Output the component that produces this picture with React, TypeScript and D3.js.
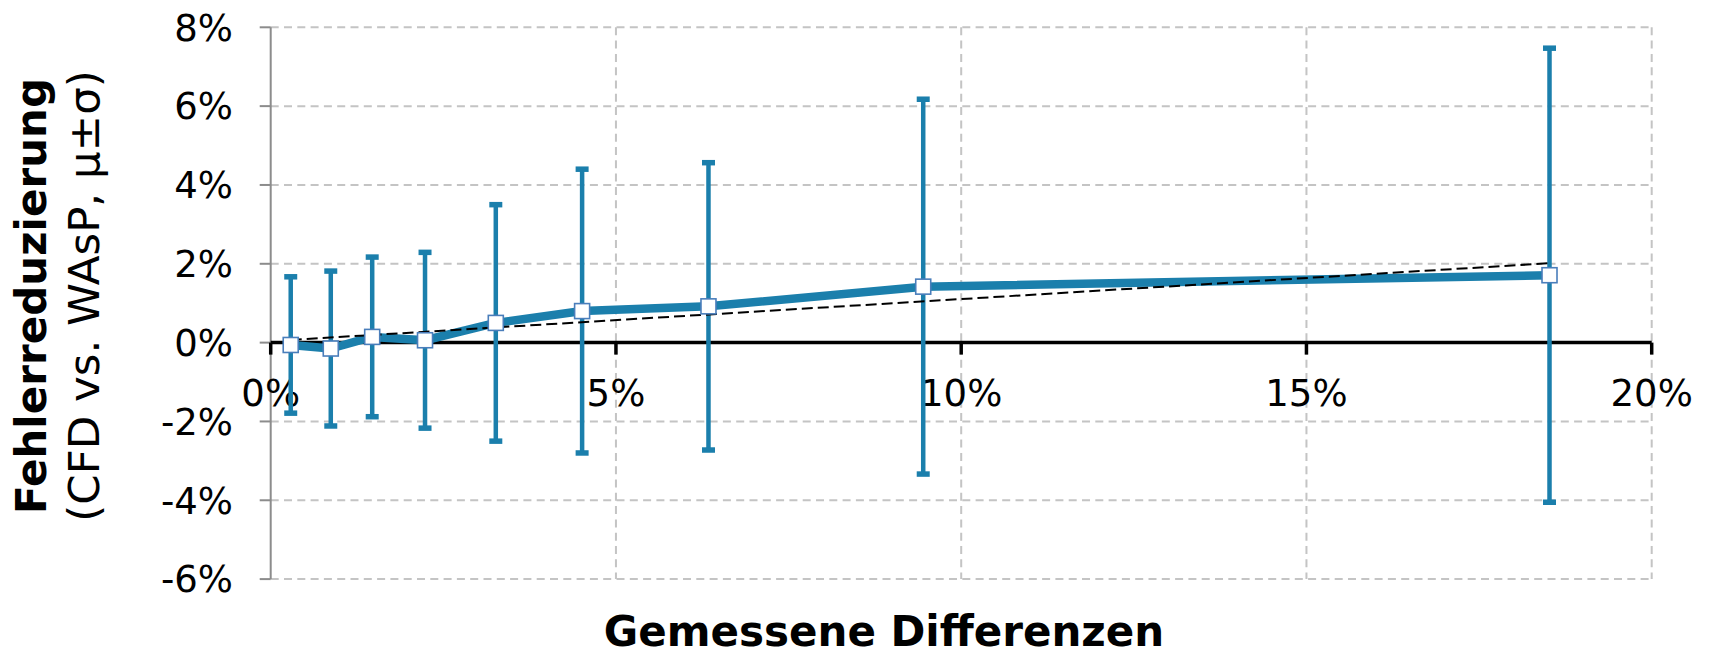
import React from "react";
import * as d3 from "d3";

// Measured differences (x, in %) and error reduction mean / std (in %)
const differences = [0.29, 0.87, 1.47, 2.235, 3.26, 4.51, 6.34, 9.45, 18.52];
const meanReduction = [-0.06, -0.15, 0.145, 0.06, 0.5, 0.8, 0.92, 1.42, 1.71];
const sigmaReduction = [1.73, 1.965, 2.025, 2.23, 3.0, 3.6, 3.645, 4.755, 5.76];

const xTicks = [0, 5, 10, 15, 20];
const yTicks = [-6, -4, -2, 0, 2, 4, 6, 8];

const xTitle = "Gemessene Differenzen";
const yTitleBold = "Fehlerreduzierung";
const yTitleRegular = "(CFD vs. WAsP, μ±σ)";

const W = 1710;
const H = 655;
const FONT = "'DejaVu Sans', Verdana, sans-serif";
const BLUE = "#1b7fac";
const MARKER_STROKE = "#4a7ebb";
const GRID = "#c4c4c4";

export default function App() {
  const x = d3.scaleLinear().domain([0, 20]).range([270.7, 1651.7]);
  const y = d3.scaleLinear().domain([-6, 8]).range([579.1, 27.3]);

  const points = differences.map((d, i) => ({
    x: d,
    m: meanReduction[i],
    s: sigmaReduction[i],
  }));

  const line = d3
    .line<{ x: number; m: number }>()
    .x((d) => x(d.x))
    .y((d) => y(d.m));

  // least-squares linear trend over the means
  const mx = d3.mean(differences) as number;
  const my = d3.mean(meanReduction) as number;
  const sxy = d3.sum(differences, (d, i) => (d - mx) * (meanReduction[i] - my));
  const sxx = d3.sum(differences, (d) => (d - mx) * (d - mx));
  const slope = sxy / sxx;
  const intercept = my - slope * mx;
  const x0 = d3.min(differences) as number;
  const x1 = d3.max(differences) as number;

  const fmt = (v: number) => `${v}%`;

  return (
    <svg
      width={W}
      height={H}
      style={{ position: "absolute", left: 0, top: 0, background: "#fff" }}
      fontFamily={FONT}
    >
      {/* horizontal grid */}
      {yTicks
        .filter((t) => t !== 0)
        .map((t) => (
          <line
            key={`gy${t}`}
            x1={x(0)}
            x2={x(20)}
            y1={y(t)}
            y2={y(t)}
            stroke={GRID}
            strokeWidth={2}
            strokeDasharray="8,5.3"
          />
        ))}
      {/* vertical grid */}
      {xTicks
        .filter((t) => t !== 0)
        .map((t) => (
          <line
            key={`gx${t}`}
            x1={x(t)}
            x2={x(t)}
            y1={y(8)}
            y2={y(-6)}
            stroke={GRID}
            strokeWidth={2}
            strokeDasharray="8,5.3"
          />
        ))}

      {/* y axis */}
      <line x1={x(0)} x2={x(0)} y1={y(8)} y2={y(-6)} stroke="#8c8c8c" strokeWidth={2} />
      {yTicks.map((t) => (
        <g key={`yt${t}`}>
          <line x1={x(0) - 11} x2={x(0)} y1={y(t)} y2={y(t)} stroke="#8c8c8c" strokeWidth={2} />
          <text
            x={233}
            y={y(t)}
            dy="0.36em"
            textAnchor="end"
            fontSize={37}
            fill="#000"
          >
            {fmt(t)}
          </text>
        </g>
      ))}

      {/* x axis at zero */}
      <line x1={x(0)} x2={x(20)} y1={y(0)} y2={y(0)} stroke="#000" strokeWidth={3.5} />
      {xTicks.map((t) => (
        <g key={`xt${t}`}>
          <line x1={x(t)} x2={x(t)} y1={y(0)} y2={y(0) + 12} stroke="#000" strokeWidth={3.5} />
          <text x={x(t)} y={405.5} textAnchor="middle" fontSize={37} fill="#000">
            {fmt(t)}
          </text>
        </g>
      ))}

      {/* mean line */}
      <path
        d={line(points) || ""}
        fill="none"
        stroke={BLUE}
        strokeWidth={8.5}
        strokeLinejoin="round"
      />

      {/* error bars */}
      {points.map((p, i) => (
        <g key={`eb${i}`} stroke={BLUE}>
          <line x1={x(p.x)} x2={x(p.x)} y1={y(p.m + p.s)} y2={y(p.m - p.s)} strokeWidth={4.5} />
          <line x1={x(p.x) - 6.5} x2={x(p.x) + 6.5} y1={y(p.m + p.s)} y2={y(p.m + p.s)} strokeWidth={5.5} />
          <line x1={x(p.x) - 6.5} x2={x(p.x) + 6.5} y1={y(p.m - p.s)} y2={y(p.m - p.s)} strokeWidth={5.5} />
        </g>
      ))}

      {/* linear trend */}
      <line
        x1={x(x0)}
        y1={y(intercept + slope * x0)}
        x2={x(x1)}
        y2={y(intercept + slope * x1)}
        stroke="#000"
        strokeWidth={2}
        strokeDasharray="11,5"
      />

      {/* markers */}
      {points.map((p, i) => (
        <rect
          key={`mk${i}`}
          x={x(p.x) - 7.5}
          y={y(p.m) - 7.5}
          width={15}
          height={15}
          fill="#fff"
          stroke={MARKER_STROKE}
          strokeWidth={1.6}
        />
      ))}

      {/* axis titles */}
      <text x={884} y={646} textAnchor="middle" fontSize={42} fontWeight="bold" fill="#000">
        {xTitle}
      </text>
      <text
        transform="translate(46,296) rotate(-90)"
        textAnchor="middle"
        fontSize={42}
        fontWeight="bold"
        fill="#000"
      >
        {yTitleBold}
      </text>
      <text
        transform="translate(99,296) rotate(-90)"
        textAnchor="middle"
        fontSize={43.5}
        fill="#000"
      >
        {yTitleRegular}
      </text>
    </svg>
  );
}
